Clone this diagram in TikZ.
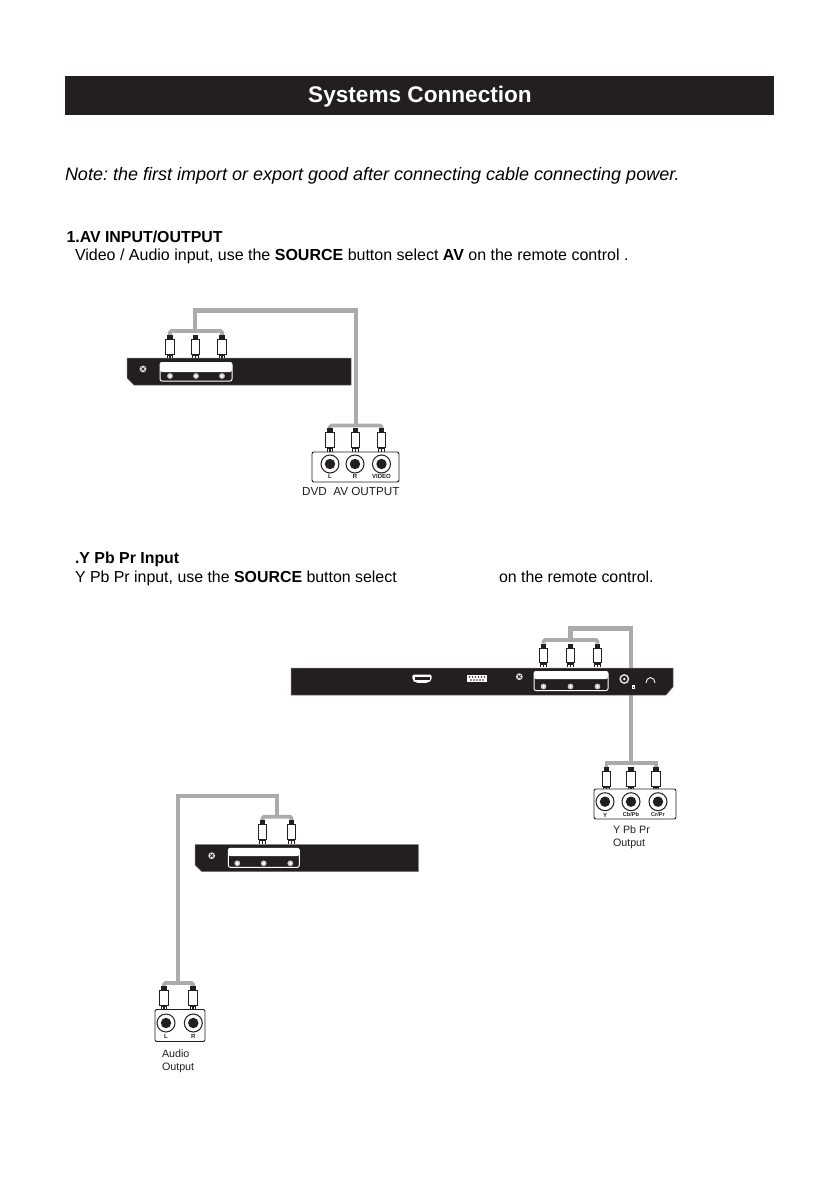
\documentclass[tikz,border=0pt]{standalone}
\usepackage{fontspec}
\setmainfont{Liberation Sans}
\usetikzlibrary{calc}
\definecolor{ink}{HTML}{231F20}
\definecolor{cablegrey}{HTML}{ABABAB}
\newcommand{\fs}[1]{\fontsize{#1}{#1}\selectfont\frenchspacing}
\tikzset{
  txt/.style={anchor=base west,inner sep=0pt,outer sep=0pt,text=black},
  cable/.style={draw=cablegrey,line width=4.4pt,line join=miter},
  branch/.style={draw=cablegrey,line width=3.6pt,rounded corners=1.5pt},
  panel/.style={fill=ink,draw=black!55,line width=0.5pt},
  tiny/.style={inner sep=0pt,font=\fs{6}\bfseries,text=ink},
  rca/.pic={
    \fill[ink] (-2.8,0) rectangle (2.8,4.5);
    \draw[ink,fill=white,line width=1pt] (-4.4,4.5) rectangle (4.4,19);
    \fill[ink] (-3.4,19) rectangle (3.4,21);
    \draw[ink,line width=1pt] (-2.6,19) -- (-2.6,23.5) (2.6,19) -- (2.6,23.5);
    \draw[ink,line width=1.2pt] (0,19) -- (0,23.5);
  },
  rcajack/.pic={
    \draw[ink,fill=white,line width=1pt] (0,0) circle (9);
    \fill[ink] (0,0) circle (5.2);
  },
  screw/.pic={
    \fill[white!85!black] (0,0) circle (3.4);
    \draw[ink,line width=0.6pt] (-1.6,-1.6) -- (1.6,1.6) (-1.6,1.6) -- (1.6,-1.6);
    \fill[ink] (0,0) circle (0.9);
  },
  dot/.pic={\fill[white!78!black] (0,0) circle (2.9); \fill[white] (0,0) circle (1.5);},
}
% rounded AV inset: #1 left, #2 top, #3 right, #4 bottom, #5 split
\newcommand{\avinset}[5]{
  \draw[white,line width=1pt,rounded corners=2pt,fill=ink] (#1,#2) rectangle (#3,#4);
  \fill[white,rounded corners=2pt] (#1,#2) -- (#3,#2) -- (#3,#5) -- (#1,#5) -- cycle;
}
\begin{document}
\begin{tikzpicture}[x=1pt,y=-1pt]
\useasboundingbox (0,0) rectangle (839,1191);
\fill[white] (0,0) rectangle (839,1191);

% title
\fill[ink] (65,76) rectangle (774,115);
\node[anchor=base,inner sep=0pt,text=white,font=\fs{22.6}\bfseries] (title) at (420,102.5) {Systems Connection};

% texts
\node[txt,font=\fs{18}\itshape] (note) at (65,180) {Note: the first import or export good after connecting cable connecting power.};
\node[txt,font=\fs{15.9}\bfseries] (h1) at (66.5,242) {1.AV INPUT/OUTPUT};
\node[txt,font=\fs{16}] (t1) at (75,260) {Video / Audio input, use the \textbf{SOURCE} button select \textbf{AV} on the remote control .};
\node[txt,font=\fs{15.9}\bfseries] (h2) at (75,563) {.Y Pb Pr Input};
\node[txt,font=\fs{15.9}] (t2) at (75,582) {Y Pb Pr input, use the \textbf{SOURCE} button select};
\node[txt,font=\fs{15.9}] (t3) at (499,582) {on the remote control.};

%%% Section 1
\coordinate (a1) at (170,335);
\coordinate (a2) at (195.5,335);
\coordinate (a3) at (222,335);
\coordinate (b1) at (330,428);
\coordinate (b2) at (355.5,428);
\coordinate (b3) at (381.5,428);
\coordinate (acrossT) at (195,331);
\coordinate (acrossB) at (356,425.5);
\draw[cable] (acrossT) -- (195,310.5) -- (356,310.5) -- (acrossB);
\draw[branch] (a1) -- (170,331) -- (222,331) -- (a3);
\draw[branch] (b1) -- (330,425.5) -- (381.5,425.5) -- (b3);
\foreach \n in {a1,a2,a3,b1,b2,b3} \pic at (\n) {rca};
\draw[panel] (127,358) -- (351,358) -- (351,385) -- (134,385) -- (127,378) -- cycle;
\avinset{160}{362.5}{232}{381}{372}
\pic at (143,369) {screw};
\foreach \x in {170,196,222} \pic at (\x,376) {dot};
\draw[ink,line width=0.9pt,rounded corners=2pt,fill=white] (312,452) rectangle (399,482);
\foreach \x in {330,355,381.5} \pic at (\x,464) {rcajack};
\node[tiny] (l1) at (330,476.5) {L};
\node[tiny] (l2) at (355,476.5) {R};
\node[tiny] (l3) at (381.5,476.5) {VIDEO};
\node[anchor=base west,inner sep=0pt,font=\fs{11.7},text=ink] (dvd) at (302,495) {DVD\ \ AV OUTPUT};

%%% Section 2
\coordinate (c1) at (543.5,643.5);
\coordinate (c2) at (570.5,643.5);
\coordinate (c3) at (597.5,643.5);
\coordinate (d1) at (606.5,767);
\coordinate (d2) at (631,767);
\coordinate (d3) at (656,767);
\draw[cable] (570.5,640) -- (570.5,628.5) -- (631,628.5) -- (631,763);
\draw[branch] (c1) -- (543.5,640) -- (597.5,640) -- (c3);
\draw[branch,rounded corners=0pt] (d1) -- (606.5,763) -- (656,763) -- (d3);
\foreach \n in {c1,c2,c3,d1,d2,d3} \pic at (\n) {rca};
\draw[panel] (291,668) -- (673,668) -- (673,687) -- (666,695) -- (291,695) -- cycle;
\avinset{534}{671.5}{608}{690.5}{679}
\foreach \x in {543.5,570.5,597.5} \pic at (\x,686.5) {dot};
\pic at (519.3,676.7) {screw};
% HDMI port
\fill[white,rounded corners=2pt] (412.3,674.5) -- (431.7,674.5) -- (431.7,680) -- (428.5,682.8) -- (415.5,682.8) -- (412.3,680) -- cycle;
\fill[ink] (414.5,677.3) rectangle (429.5,679.8);
% VGA port
\fill[white] (467,675) rectangle (487,682);
\foreach \x in {469.5,472.5,...,485} \fill[ink] (\x,677) circle (0.8);
\foreach \x in {471,474,...,484} \fill[ink] (\x,680) circle (0.8);
% coax and small jack
\fill[white!85!black] (624.3,679) circle (5);
\fill[ink] (624.3,679) circle (3.2);
\fill[white] (624.3,679) circle (1.3);
\fill[white] (632,685) rectangle (635,689);
\fill[ink] (633,687) rectangle (634,688);
% headphones
\draw[white,line width=0.9pt] (646,683) arc[start angle=180,end angle=360,x radius=4.5,y radius=5.5];
\draw[ink,line width=0.9pt,rounded corners=2pt,fill=white] (594,789) rectangle (676,819);
\foreach \x in {605,631,658} \pic at (\x,801.7) {rcajack};
\node[tiny] (y1) at (605,815) {Y};
\node[tiny,font=\fs{5.6}\bfseries] (y2) at (631,815) {Cb/Pb};
\node[tiny,font=\fs{5.6}\bfseries] (y3) at (658,815) {Cr/Pr};
\node[txt,font=\fs{10.7},text=ink] (ypp) at (613,833) {Y Pb Pr};
\node[txt,font=\fs{10.7},text=ink] (yout) at (613,846) {Output};

%%% Section 3
\coordinate (e1) at (262.5,820);
\coordinate (e2) at (291.5,820);
\coordinate (f1) at (164,986);
\coordinate (f2) at (193,986);
\draw[cable,line width=3.8pt] (276.7,816.7) -- (276.7,796) -- (177.7,796) -- (177.7,983);
\draw[branch] (e1) -- (262.5,816.7) -- (291.5,816.7) -- (e2);
\draw[branch] (f1) -- (164,983) -- (193,983) -- (f2);
\foreach \n in {e1,e2,f1,f2} \pic at (\n) {rca};
\draw[panel] (195,844.5) -- (418.3,844.5) -- (418.3,871.7) -- (202,871.7) -- (195,865) -- cycle;
\avinset{228.3}{848.3}{299.3}{867.3}{856}
\pic at (211.7,855.7) {screw};
\foreach \x in {237.3,263.7,290.3} \pic at (\x,863.3) {dot};
\draw[ink,line width=0.9pt,rounded corners=2pt,fill=white] (155,1009.5) rectangle (205,1041.5);
\foreach \x in {166,193.3} \pic at (\x,1023) {rcajack};
\node[tiny] (g1) at (166,1036) {L};
\node[tiny] (g2) at (193.3,1036) {R};
\node[txt,font=\fs{10.7},text=ink] (aud) at (162,1057) {Audio};
\node[txt,font=\fs{10.7},text=ink] (aout) at (162,1070) {Output};
\end{tikzpicture}
\end{document}
